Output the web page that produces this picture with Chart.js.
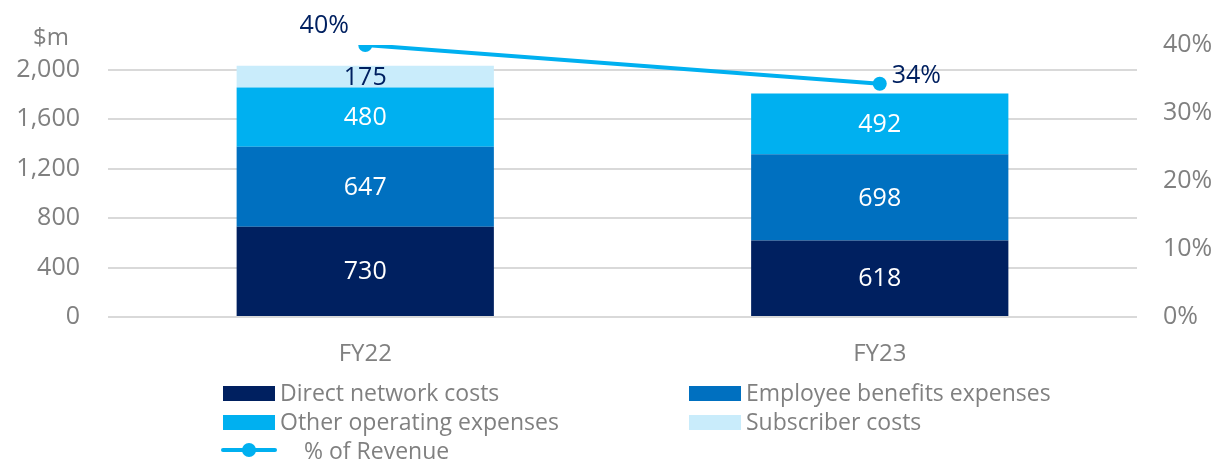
<!DOCTYPE html>
<html>
<head>
<meta charset="utf-8">
<script src="https://cdn.jsdelivr.net/npm/chart.js@4"></script>
<style>
  html, body { margin: 0; padding: 0; background: #fff; }
  #wrap { position: relative; width: 1218px; height: 461px; font-family: "Open Sans", sans-serif; }
  #chartBox { position: absolute; left: 0; top: 0; width: 1218px; height: 380px; }
  #unit { position: absolute; left: 33px; top: 20px; font-size: 24px; color: #808080; line-height: 32px; }
  .lg { position: absolute; font-size: 23px; color: #808080; line-height: 30px; white-space: nowrap; }
  .sw { position: absolute; width: 52px; height: 15px; }
</style>
</head>
<body>
<div id="wrap">
  <div id="chartBox"><canvas id="costChart"></canvas></div>
  <div id="unit">$m</div>
  <div id="legend"></div>
</div>
<script>
  /* ───────────────── DATA ───────────────── */
  const years       = ["FY22", "FY23"];
  const directCosts = [730, 618];
  const employeeExp = [647, 698];
  const otherOpex   = [480, 492];
  const subscriber  = [175, null];
  const pctRevenue  = [40, 34.3];
  const pctLabels   = ["40%", "34%"];

  const NAVY = "#002060", MID = "#0070C0", CYAN = "#00B0F0", PALE = "#C9ECFB";
  const GREY = "#808080";

  /* ───────────────── LEGEND (html, 2 cols) ───────────────── */
  const legendItems = [
    { label: "Direct network costs",        color: NAVY, x: 223, y: 393 },
    { label: "Employee benefits expenses",  color: MID,  x: 689, y: 393 },
    { label: "Other operating expenses",    color: CYAN, x: 223, y: 422 },
    { label: "Subscriber costs",            color: PALE, x: 689, y: 422 }
  ];
  const legendEl = document.getElementById("legend");
  legendItems.forEach(it => {
    const sw = document.createElement("div");
    sw.className = "sw";
    sw.style.left = it.x + "px";
    sw.style.top = (it.y - 7) + "px";
    sw.style.background = it.color;
    legendEl.appendChild(sw);
    const tx = document.createElement("div");
    tx.className = "lg";
    tx.style.left = (it.x + 57) + "px";
    tx.style.top = (it.y - 16) + "px";
    tx.textContent = it.label;
    legendEl.appendChild(tx);
  });
  // line legend entry
  legendEl.insertAdjacentHTML("beforeend",
    '<div style="position:absolute;left:221px;top:448px;width:56px;height:4px;background:' + CYAN + ';border-radius:2px"></div>' +
    '<div style="position:absolute;left:242px;top:443px;width:14px;height:14px;border-radius:50%;background:' + CYAN + '"></div>' +
    '<div class="lg" style="left:304px;top:435px">% of Revenue</div>');

  /* ───────────────── LABEL PLUGIN ───────────────── */
  const valueLabels = {
    id: "valueLabels",
    afterDatasetsDraw(chart) {
      const ctx = chart.ctx;
      ctx.save();
      ctx.textAlign = "center";
      ctx.textBaseline = "middle";
      ctx.font = '25px "Open Sans"';
      chart.data.datasets.forEach((ds, i) => {
        if (ds.type === "line") return;
        const meta = chart.getDatasetMeta(i);
        meta.data.forEach((el, j) => {
          const v = ds.data[j];
          if (v == null) return;
          ctx.fillStyle = ds.labelColor || "#fff";
          ctx.fillText(String(v), el.x, (el.y + el.base) / 2 + 1);
        });
      });
      // line labels
      const li = chart.data.datasets.findIndex(d => d.type === "line");
      const lm = chart.getDatasetMeta(li);
      ctx.fillStyle = NAVY;
      lm.data.forEach((pt, j) => {
        if (j === 0) {
          ctx.textAlign = "center";
          ctx.fillText(pctLabels[j], pt.x - 41, pt.y - 19);
        } else {
          ctx.textAlign = "left";
          ctx.fillText(pctLabels[j], pt.x + 12, pt.y - 8);
        }
      });
      ctx.restore();
    }
  };

  /* ───────────────── CHART ───────────────── */
  const barDs = (label, data, color, labelColor) => ({
    type: "bar", label, data, backgroundColor: color, labelColor,
    borderWidth: 0, yAxisID: "y", order: 1, stack: "s",
    categoryPercentage: 1, barPercentage: 0.5
  });

  new Chart(document.getElementById("costChart").getContext("2d"), {
    data: {
      labels: years,
      datasets: [
        {
          type: "line", label: "% of Revenue", data: pctRevenue, yAxisID: "y1", order: 0,
          borderColor: CYAN, backgroundColor: CYAN, borderWidth: 4,
          pointRadius: 7, pointHoverRadius: 7, pointBackgroundColor: CYAN, pointBorderWidth: 0
        },
        barDs("Direct network costs", directCosts, NAVY),
        barDs("Employee benefits expenses", employeeExp, MID),
        barDs("Other operating expenses", otherOpex, CYAN),
        barDs("Subscriber costs", subscriber, PALE, NAVY)
      ]
    },
    options: {
      responsive: true,
      maintainAspectRatio: false,
      animation: false,
      layout: { padding: { top: 45, left: 0, right: 0, bottom: 0 } },
      plugins: { legend: { display: false }, tooltip: { enabled: false } },
      scales: {
        x: {
          stacked: true,
          grid: { display: false, drawTicks: false },
          border: { display: false },
          ticks: { color: GREY, font: { family: "Open Sans", size: 24 }, padding: 23 },
          afterFit: s => { s.height = 63; }
        },
        y: {
          stacked: true, position: "left", min: 0, max: 2200,
          grid: { color: "#D9D9D9", lineWidth: 2, drawTicks: false },
          border: { display: false },
          ticks: {
            stepSize: 400, includeBounds: false, padding: 28, color: GREY,
            font: { family: "Open Sans", size: 25 },
            callback: v => v.toLocaleString("en-US")
          },
          afterFit: s => { s.width = 108; }
        },
        y1: {
          position: "right", min: 0, max: 40,
          grid: { display: false, drawTicks: false },
          border: { display: false },
          ticks: {
            stepSize: 10, padding: 26, color: GREY,
            font: { family: "Open Sans", size: 25 },
            callback: v => v + "%"
          },
          afterFit: s => { s.width = 81; }
        }
      }
    },
    plugins: [valueLabels]
  });
</script>
</body>
</html>
